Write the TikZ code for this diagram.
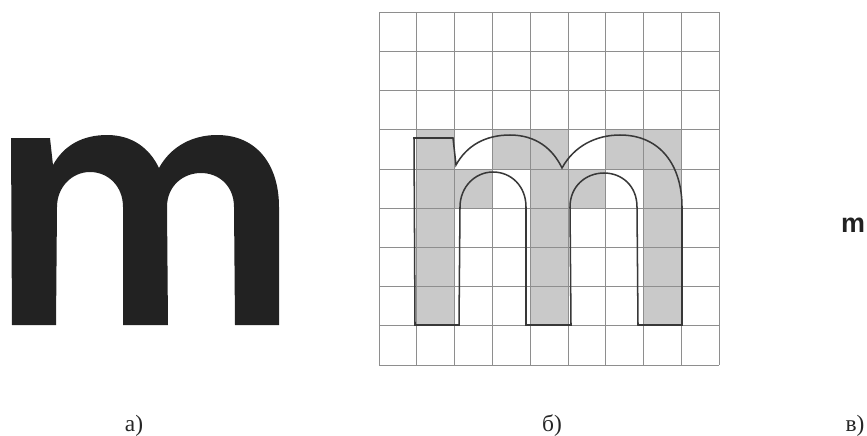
\documentclass[tikz,border=0pt]{standalone}
\usepackage{fontspec}
\setmainfont{Liberation Serif}
\newfontfamily\glyphfont{Liberation Sans}
\usepackage{tikz}

\definecolor{glyphgray}{HTML}{222222}
\definecolor{cellgray}{HTML}{C9C9C9}
\definecolor{gridgray}{HTML}{8E8E8E}
\definecolor{outlinegray}{HTML}{383838}

% outline of the letter, in pixel units of panel (b)
\newcommand{\mpath}{(415,325) -- (414,138) -- (453,138) -- (456,165)
  .. controls (467,145) and (486,135) .. (510,135)
  .. controls (536,135) and (553,149) .. (562,168)
  .. controls (574,146) and (596,135) .. (620,135)
  .. controls (660,135) and (682,165) .. (682,207)
  -- (682,325) -- (638,325) -- (637,207)
  .. controls (637,186) and (622,173) .. (604,173)
  .. controls (586,173) and (570,186) .. (570,207)
  -- (571,325) -- (526,325) -- (526,207)
  .. controls (526,186) and (511,172) .. (493,172)
  .. controls (475,172) and (460,187) .. (460,207)
  -- (459,325) -- cycle}

\begin{document}
\begin{tikzpicture}[x={(0.03cm,0cm)}, y={(0cm,-0.03cm)},
    gridline/.style={draw=gridgray, line width=0.6pt},
    outline/.style={draw=outlinegray, line width=1.3pt, line join=miter},
    caption/.style={font=\fontsize{20}{24}\selectfont, text=black!85,
                    inner sep=0pt, anchor=base}]
\useasboundingbox (0,0) rectangle (867,435);
\pgfmathsetmacro{\dx}{340/9}
\pgfmathsetmacro{\dy}{353/9}

% (a) the letter itself
\fill[glyphgray, shift={(-403,0)}] \mpath;

% (b) raster cells under the outline
\foreach \c/\r in {1/3,3/3,4/3,6/3,7/3, 1/4,2/4,4/4,5/4,7/4,
                   1/5,4/5,7/5, 1/6,4/6,7/6, 1/7,4/7,7/7}
  \fill[cellgray] ({379+\c*\dx},{12+\r*\dy}) rectangle ++(\dx,\dy);
\foreach \i in {0,...,9} {
  \draw[gridline] ({379+\i*\dx},12) -- ({379+\i*\dx},365);
  \draw[gridline] (379,{12+\i*\dy}) -- (719,{12+\i*\dy});
}
\draw[outline] \mpath;

% (c) the letter at its real size
\node[font=\glyphfont\bfseries\fontsize{23}{27}\selectfont, text=glyphgray,
      inner sep=0pt, anchor=base west] (small) at (841,232) {m};

\node[caption] (capa) at (134,431) {а)};
\node[caption] (capb) at (552,431) {б)};
\node[caption] (capc) at (855,431) {в)};
\end{tikzpicture}
\end{document}
